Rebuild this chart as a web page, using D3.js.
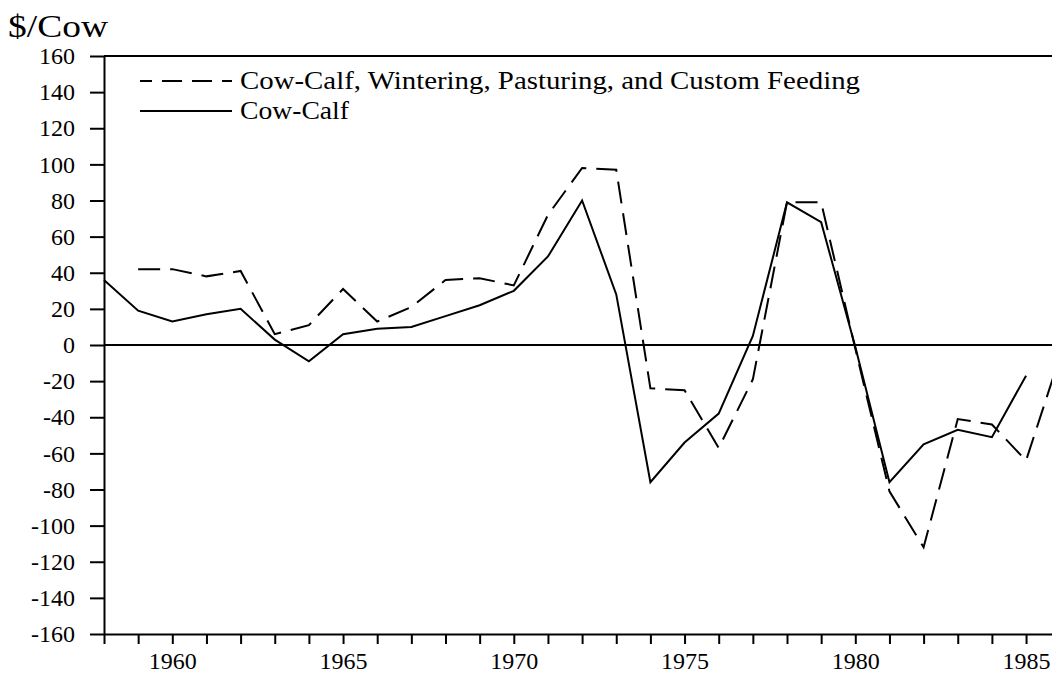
<!DOCTYPE html>
<html>
<head>
<meta charset="utf-8">
<script src="https://cdn.jsdelivr.net/npm/d3@7"></script>
<style>
  body { margin: 0; background: #fff; }
  svg { display: block; font-family: "Liberation Serif", "DejaVu Serif", serif; }
  svg text { font-family: "Liberation Serif", "DejaVu Serif", serif; }
</style>
</head>
<body>
<div id="container"></div>
<script>
/* DATA */
const years = d3.range(1958, 1987);
// Cow-Calf, Wintering, Pasturing, and Custom Feeding (starts 1959)
const allTypes = [null, 42, 42, 38, 41, 6, 11, 31, 13, 21, 36, 37, 33, 72, 98, 97, -24, -25, -57, -19, 79, 79, -2, -81, -112, -41, -44, -64, -6];
// Cow-Calf (ends 1985)
const cowCalf = [36, 19, 13, 17, 20, 3, -9, 6, 9, 10, 16, 22, 30, 49, 80, 28, -76, -54, -38, 5, 79, 68, -1, -76, -55, -47, -51, -17, null];
const yTicks = d3.range(-160, 161, 20);
const xLabels = [1960, 1965, 1970, 1975, 1980, 1985];

/* CONSTANTS */
const width = 1052, height = 674;
const margin = { top: 56, bottom: 40, left: 104 };
const yearWidth = 34.15;

const svg = d3.select("#container")
  .append("svg")
  .attr("width", width)
  .attr("height", height);

const xScale = d3.scaleLinear()
  .domain([1958, 1986])
  .range([margin.left, margin.left + 28 * yearWidth]);

const yScale = d3.scaleLinear()
  .domain([-160, 160])
  .range([height - margin.bottom, margin.top]);

// y axis (plain hyphen for negatives, as in the original)
const yAxis = svg.append("g")
  .attr("transform", `translate(${margin.left},0)`)
  .call(d3.axisLeft(yScale).tickValues(yTicks).tickSize(14).tickPadding(15).tickSizeOuter(0)
    .tickFormat(d => String(d)));
yAxis.attr("font-family", null).attr("font-size", 24);
yAxis.selectAll("text").attr("fill", "#000");
yAxis.selectAll("line, path").attr("stroke", "#000").attr("stroke-width", 2);

// x axis
const xAxis = svg.append("g")
  .attr("transform", `translate(0,${yScale(-160)})`)
  .call(d3.axisBottom(xScale).tickValues(years).tickSize(10).tickPadding(8).tickSizeOuter(0)
    .tickFormat(d => xLabels.includes(d) ? String(d) : ""));
xAxis.attr("font-family", null).attr("font-size", 24);
xAxis.selectAll("text").attr("fill", "#000");
xAxis.selectAll("line, path").attr("stroke", "#000").attr("stroke-width", 2);

// top border and zero line
svg.append("line")
  .attr("x1", margin.left).attr("x2", width)
  .attr("y1", yScale(160)).attr("y2", yScale(160))
  .attr("stroke", "#000").attr("stroke-width", 2);
svg.append("line")
  .attr("x1", margin.left).attr("x2", width)
  .attr("y1", yScale(0)).attr("y2", yScale(0))
  .attr("stroke", "#000").attr("stroke-width", 2);

// title
svg.append("text")
  .attr("x", 8).attr("y", 37)
  .attr("font-size", 31)
  .attr("textLength", 100)
  .attr("lengthAdjust", "spacingAndGlyphs")
  .text("$/Cow");

const line = d3.line()
  .defined(d => d[1] !== null)
  .x(d => xScale(d[0]))
  .y(d => yScale(d[1]));

svg.append("path")
  .datum(years.map((y, i) => [y, allTypes[i]]))
  .attr("d", line)
  .attr("fill", "none")
  .attr("stroke", "#000")
  .attr("stroke-width", 2)
  .attr("stroke-dasharray", "22,10");

svg.append("path")
  .datum(years.map((y, i) => [y, cowCalf[i]]))
  .attr("d", line)
  .attr("fill", "none")
  .attr("stroke", "#000")
  .attr("stroke-width", 2);

// legend
const legend = svg.append("g");
const legendItems = [
  { label: "Cow-Calf, Wintering, Pasturing, and Custom Feeding", dash: "20,10", len: 620 },
  { label: "Cow-Calf", dash: null, len: 109 }
];
legendItems.forEach((d, i) => {
  const yy = 81 + i * 30;
  legend.append("line")
    .attr("x1", 140).attr("x2", 232)
    .attr("y1", yy).attr("y2", yy)
    .attr("stroke", "#000").attr("stroke-width", 2)
    .attr("stroke-dasharray", d.dash)
    .attr("stroke-dashoffset", d.dash ? 8 : null);
  legend.append("text")
    .attr("x", 240).attr("y", yy + 8)
    .attr("font-size", 25)
    .attr("textLength", d.len)
    .attr("lengthAdjust", "spacingAndGlyphs")
    .text(d.label);
});
</script>
</body>
</html>
